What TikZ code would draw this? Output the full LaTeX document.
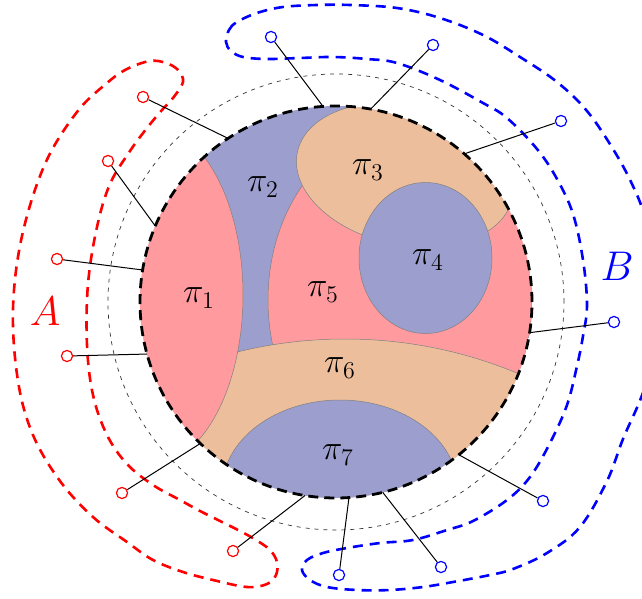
\documentclass[tikz,border=0pt]{standalone}
\usetikzlibrary{calc}
\definecolor{pired}{RGB}{255,155,158}
\definecolor{piblue}{RGB}{156,159,206}
\definecolor{piorange}{RGB}{237,190,156}
\begin{document}
\begin{tikzpicture}[x=0.5pt,y=0.5pt,
  region/.style={draw=gray,line width=0.25pt},
  maincirc/.style={draw=black,line width=1.4pt,dash pattern=on 5pt off 3pt},
  dotcirc/.style={draw=black!80,line width=0.35pt,dash pattern=on 2pt off 2.5pt},
  spoke/.style={draw=black,line width=0.5pt},
  redterm/.style={circle,draw=red,fill=white,line width=0.6pt,inner sep=0pt,minimum size=5.6pt},
  blueterm/.style={circle,draw=blue,fill=white,line width=0.6pt,inner sep=0pt,minimum size=5.6pt},
  Acurve/.style={draw=red,line width=1.3pt,dash pattern=on 5pt off 3.5pt},
  Bcurve/.style={draw=blue,line width=1.3pt,dash pattern=on 5pt off 3.5pt},
  pilabel/.style={inner sep=0pt,font=\fontsize{17}{20}\selectfont},
  setlabel/.style={inner sep=0pt,font=\fontsize{22}{26}\selectfont}]
\useasboundingbox (0,0) rectangle (642,-599);
\coordinate (C) at (336,-302);
% regions
\begin{scope}
\clip (C) circle[radius=196];
\fill[piblue] (C) circle[radius=196];
\filldraw[region,fill=pired] (400,-300) ellipse[x radius=132,y radius=170];
\filldraw[region,fill=piorange,rotate around={-12:(405,-175)}] (405,-175) ellipse[x radius=110,y radius=70];
\filldraw[region,fill=piorange] (345,-789) circle[radius=450];
\filldraw[region,fill=pired] (150,-295) ellipse[x radius=93,y radius=170];
\filldraw[region,fill=piblue] (425.5,-258) ellipse[x radius=66.5,y radius=75.5];
\filldraw[region,fill=piblue] (340,-490) ellipse[x radius=118,y radius=90];
\end{scope}
\draw[maincirc] (C) circle[radius=196];
\draw[dotcirc] (C) circle[radius=228];
% set curves
\draw[Acurve] plot[smooth cycle,tension=0.6] coordinates {(183,-82) (178,-70) (166,-63) (150,-61) (127,-69) (107,-83) (77,-112) (45,-164) (22,-236) (13,-309) (18,-381) (33,-435) (60,-481) (93,-517) (127,-542) (153,-560) (183,-572) (213,-580) (247,-587) (267,-584) (276,-575) (277,-562) (270,-550) (256,-540) (240,-531) (220,-521) (200,-511) (180,-500) (153,-485) (127,-464) (107,-435) (93,-395) (87,-345) (88,-284) (97,-227) (110,-184) (130,-151) (147,-128) (162,-110) (173,-98)};
\draw[Bcurve] plot[smooth cycle,tension=0.6] coordinates {(226,-42) (229,-30) (237,-22) (257,-13) (283,-7) (317,-5) (350,-5) (397,-8) (440,-18) (483,-35) (520,-57) (557,-82) (587,-111) (613,-149) (632,-184) (646,-220) (668,-300) (646,-384) (623,-439) (607,-481) (580,-527) (547,-553) (513,-569) (490,-575) (453,-582) (423,-587) (390,-590) (357,-590) (327,-587) (310,-580) (302,-570) (307,-560) (323,-553) (347,-548) (380,-543) (413,-540) (447,-530) (473,-521) (507,-500) (530,-477) (550,-443) (567,-405) (577,-366) (583,-336) (587,-305) (583,-260) (573,-214) (557,-179) (537,-149) (507,-118) (483,-103) (440,-80) (397,-63) (367,-59) (333,-57) (300,-58) (267,-59) (243,-57) (231,-51)};
% spokes and terminals
\foreach \n/\ang/\tx/\ty in {a1/123.4/143/97, a2/157.2/108/161, a3/170.6/57/259, a4/195.4/67/356, a5/226.2/122/493, a6/260.9/233/551}{
  \coordinate (\n s) at ($(C)+(\ang:196)$);
  \node[redterm] (\n) at (\tx,-\ty) {};
  \draw[spoke] (\n s) -- (\n);
}
\foreach \n/\ang/\tx/\ty in {b1/93.8/271/37, b2/79.8/433/45, b3/49.1/561/121, b4/-9.0/614/322, b5/-51.2/543/501, b6/-76.2/441/567, b7/-86.2/339/575}{
  \coordinate (\n s) at ($(C)+(\ang:196)$);
  \node[blueterm] (\n) at (\tx,-\ty) {};
  \draw[spoke] (\n s) -- (\n);
}
% labels
\node[pilabel] (p1) at (199,-298) {$\pi_1$};
\node[pilabel] (p2) at (263,-187) {$\pi_2$};
\node[pilabel] (p3) at (368,-170) {$\pi_3$};
\node[pilabel] (p4) at (428,-260) {$\pi_4$};
\node[pilabel] (p5) at (323,-292) {$\pi_5$};
\node[pilabel] (p6) at (340,-368) {$\pi_6$};
\node[pilabel] (p7) at (338,-455) {$\pi_7$};
\node[setlabel,text=red] (A) at (45,-311) {$A$};
\node[setlabel,text=blue] (B) at (617,-266) {$B$};
\end{tikzpicture}
\end{document}
